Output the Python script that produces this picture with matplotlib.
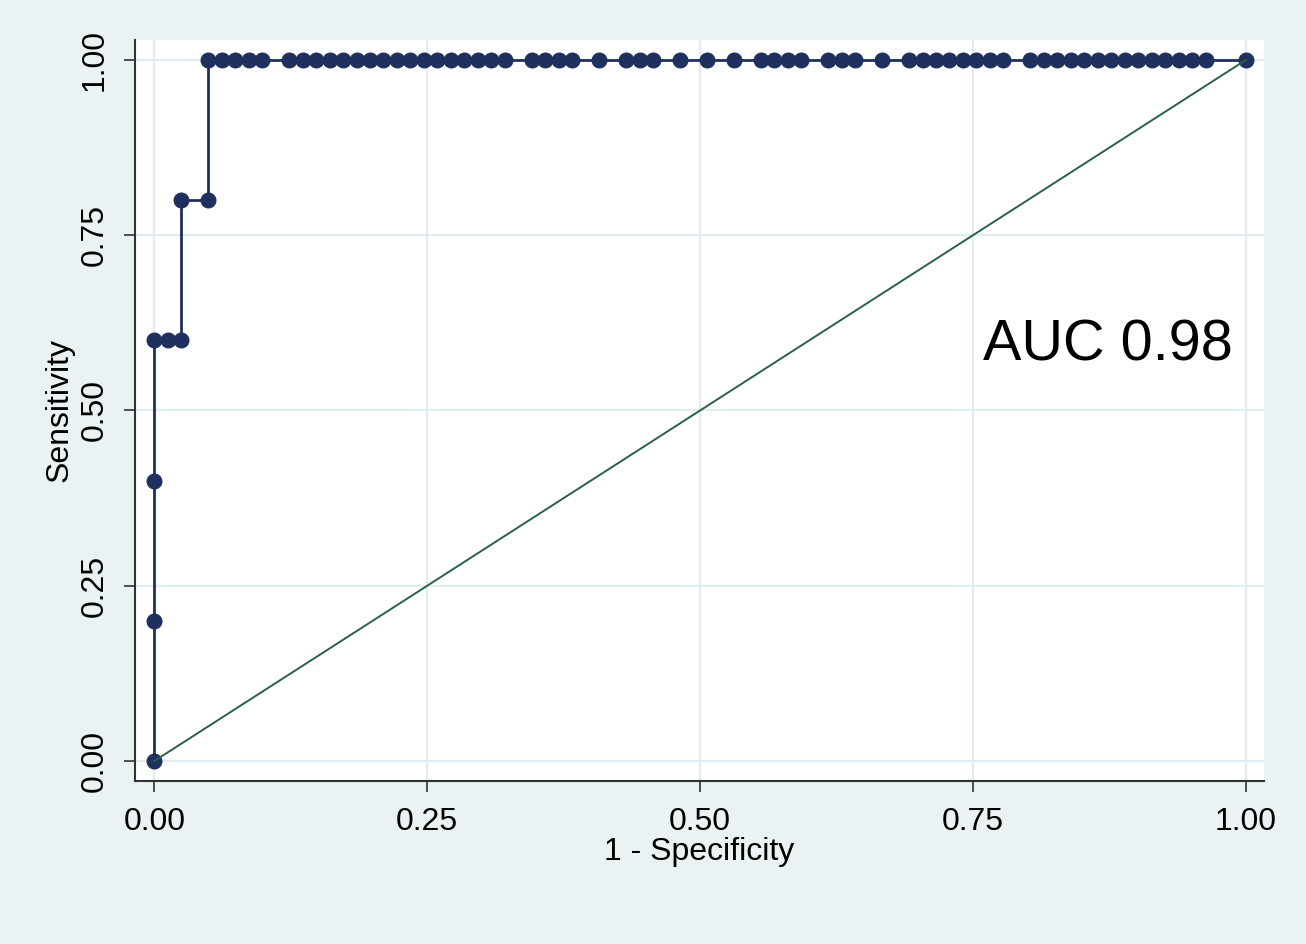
import matplotlib
matplotlib.use('Agg')
import matplotlib.pyplot as plt

##Curva ROC (estilo Stata)
##Numero de negativos y positivos
n_neg = 81
n_pos = 5

##Tramo inicial de la curva (falsos positivos, verdaderos positivos)
steps_fp = [0, 0, 0, 0, 1, 2, 2, 4]
steps_tp = [0, 1, 2, 3, 3, 3, 4, 4]

##Puntos con sensibilidad 1.00 (falsos positivos)
top_fp = [4, 5, 6, 7, 8, 10, 11, 12, 13, 14, 15, 16, 17, 18, 19, 20, 21, 22,
          23, 24, 25, 26, 28, 29, 30, 31, 33, 35, 36, 37, 39, 41, 43, 45, 46,
          47, 48, 50, 51, 52, 54, 56, 57, 58, 59, 60, 61, 62, 63, 65, 66, 67,
          68, 69, 70, 71, 72, 73, 74, 75, 76, 77, 78, 81]

ticks = [0.00, 0.25, 0.50, 0.75, 1.00]
tick_labels = ['0.00', '0.25', '0.50', '0.75', '1.00']
auc_text = 'AUC 0.98'

fp = steps_fp + top_fp
tp = steps_tp + [n_pos] * len(top_fp)
fpr = [v / n_neg for v in fp]
sens = [v / n_pos for v in tp]

plt.rcParams['font.family'] = ['Liberation Sans', 'DejaVu Sans']

bg = '#eaf2f3'
fig = plt.figure(figsize=(13.06, 9.44), dpi=100, facecolor=bg)
ax = fig.add_axes([0.1034, 0.1727, 0.8644, 0.7850])
ax.set_facecolor('white')

# lineas de cuadricula
for t in ticks:
    ax.axhline(t, color='#e2ebef', lw=1.6, zorder=0)
    ax.axvline(t, color='#e2ebef', lw=1.6, zorder=0)

ax.plot(fpr, sens, '-o', color='#1f2f5e', lw=2.0, markersize=10.5, zorder=3)
ax.plot([0, 1], [0, 1], color='#2a6142', lw=1.4, zorder=4)

ax.text(0.759, 0.593, auc_text, fontsize=41.5, va='center', ha='left', color='black')

ax.set_xlim(-0.0177, 1.0165)
ax.set_ylim(-0.0285, 1.0285)
ax.set_xticks(ticks)
ax.set_xticklabels(tick_labels)
ax.set_yticks(ticks)
ax.set_yticklabels(tick_labels, rotation=90, va='center')

for s in ['top', 'right']:
    ax.spines[s].set_visible(False)
for s in ['left', 'bottom']:
    ax.spines[s].set_color('#333333')
    ax.spines[s].set_linewidth(1.5)

ax.tick_params(axis='both', direction='out', length=8, width=1.2,
               color='#333333', labelsize=23)
ax.tick_params(axis='x', pad=11)
ax.tick_params(axis='y', pad=10)

ax.set_xlabel('1 - Specificity', fontsize=23, labelpad=0)
ax.set_ylabel('Sensitivity', fontsize=23, labelpad=4)

fig.savefig('out.png', dpi=100, facecolor=bg)
